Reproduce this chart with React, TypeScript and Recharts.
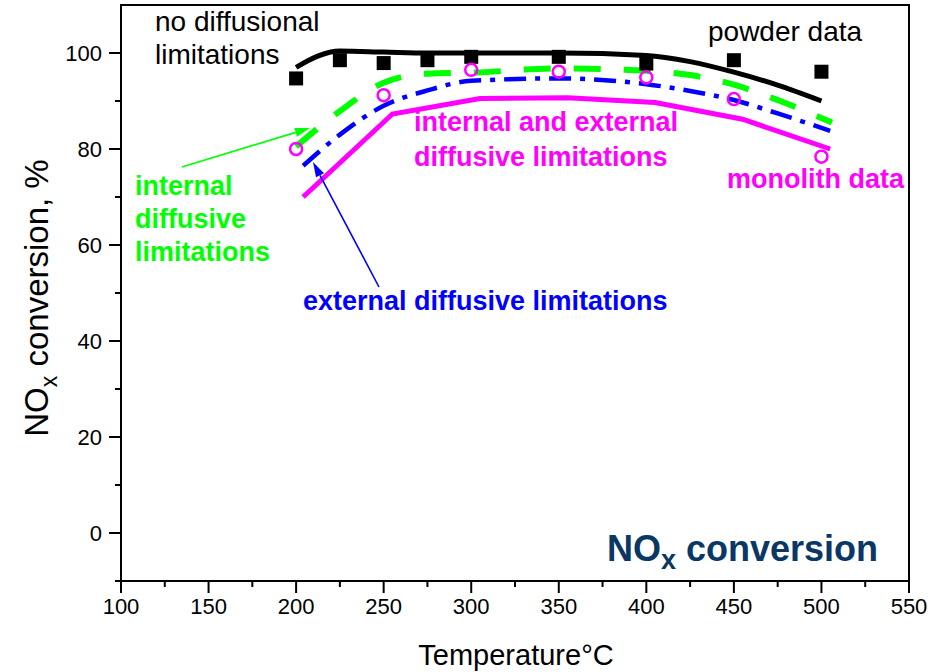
import React from 'react';
import { ComposedChart, Line, Scatter, XAxis, YAxis, ReferenceArea } from 'recharts';

// ---- data ----
const powderT = [200, 225, 250, 275, 300, 350, 400, 450, 500];
const powderNOx = [94.7, 98.5, 97.9, 98.5, 99.2, 99.2, 97.8, 98.5, 96.1];

const monolithT = [200, 250, 300, 350, 400, 450, 500];
const monolithNOx = [80, 91.2, 96.5, 96.1, 94.9, 90.4, 78.4];

const noDiffT = [200, 212, 225, 250, 275, 300, 350, 400, 425, 450, 475, 500];
const noDiffNOx = [97, 99.3, 100.4, 100.2, 100, 100, 100, 99.5, 98.2, 96, 93.3, 90];

const internalT = [200, 225, 250, 275, 300, 350, 400, 425, 450, 475, 506];
const internalNOx = [80.5, 87.9, 93.8, 95.7, 95.9, 96.8, 96.3, 95.4, 93.4, 90.2, 85.5];

const externalT = [204, 225, 250, 275, 300, 350, 400, 425, 450, 475, 505];
const externalNOx = [76.5, 83, 89, 92.2, 94.2, 94.7, 93.5, 92.1, 90.2, 87.4, 83.8];

const bothT = [204, 255, 305, 355, 405, 455, 505];
const bothNOx = [70, 87.3, 90.5, 90.7, 89.7, 86.2, 80];

const xTicks = [100, 125, 150, 175, 200, 225, 250, 275, 300, 325, 350, 375, 400, 425, 450, 475, 500, 525, 550];
const yTicks = [-10, 0, 10, 20, 30, 40, 50, 60, 70, 80, 90, 100];

const zip = (xs: number[], ys: number[]) => xs.map((x, i) => ({ x, y: ys[i] }));

const powderData = zip(powderT, powderNOx);
const monolithData = zip(monolithT, monolithNOx);
const noDiffData = zip(noDiffT, noDiffNOx);
const internalData = zip(internalT, internalNOx);
const externalData = zip(externalT, externalNOx);
const bothData = zip(bothT, bothNOx);

const FONT = '"Liberation Sans", Arial, Helvetica, sans-serif';
const GREEN = '#00ff00';
const BLUE = '#0000ff';
const MAGENTA = '#ff00ff';
const NAVY = '#0a3764';

const XTick = (p: any) => {
  const { x, y, payload } = p;
  const major = payload.value % 50 === 0;
  return (
    <g>
      <line x1={x} x2={x} y1={y} y2={y + (major ? 12 : 6)} stroke="#000" strokeWidth={2} />
      {major && (
        <text x={x} y={y + 33} textAnchor="middle" fontSize={22} fontFamily={FONT} fill="#000">
          {payload.value}
        </text>
      )}
    </g>
  );
};

const YTick = (p: any) => {
  const { x, y, payload } = p;
  const major = payload.value % 20 === 0;
  return (
    <g>
      <line x1={x - (major ? 12 : 6)} x2={x} y1={y} y2={y} stroke="#000" strokeWidth={2} />
      {major && (
        <text x={x - 19} y={y} dy="0.36em" textAnchor="end" fontSize={22} fontFamily={FONT} fill="#000">
          {payload.value}
        </text>
      )}
    </g>
  );
};

const Square = (p: any) => (
  <rect x={p.cx - 7} y={p.cy - 7} width={14} height={14} fill="#000" />
);
const Ring = (p: any) => (
  <circle cx={p.cx} cy={p.cy} r={6} fill="none" stroke={MAGENTA} strokeWidth={2.5} />
);

const Arrow = ({ x1, y1, x2, y2, color }: any) => {
  const ang = Math.atan2(y2 - y1, x2 - x1);
  const L = 15, Wd = 4.5;
  const bx = x2 - L * Math.cos(ang), by = y2 - L * Math.sin(ang);
  const px = -Math.sin(ang) * Wd, py = Math.cos(ang) * Wd;
  return (
    <g>
      <line x1={x1} y1={y1} x2={bx} y2={by} stroke={color} strokeWidth={1.6} />
      <polygon points={`${x2},${y2} ${bx + px},${by + py} ${bx - px},${by - py}`} fill={color} />
    </g>
  );
};

export default function App() {
  return (
    <div style={{ position: 'absolute', left: 0, top: 0, width: 938, height: 672, background: '#fff' }}>
      <ComposedChart
        width={938}
        height={672}
        margin={{ top: 5, right: 29, bottom: 31, left: 61 }}
      >
        <XAxis
          dataKey="x"
          type="number"
          domain={[100, 550]}
          ticks={xTicks}
          interval={0}
          tickSize={0}
          tickMargin={0}
          tickLine={false}
          tick={(p: any) => <XTick {...p} />}
          axisLine={{ stroke: '#000', strokeWidth: 2 }}
          height={60}
          allowDataOverflow
        />
        <YAxis
          dataKey="y"
          type="number"
          domain={[-10, 110]}
          ticks={yTicks}
          interval={0}
          tickSize={0}
          tickMargin={0}
          tickLine={false}
          tick={(p: any) => <YTick {...p} />}
          axisLine={{ stroke: '#000', strokeWidth: 2 }}
          width={60}
          allowDataOverflow
        />
        <ReferenceArea x1={100} x2={550} y1={-10} y2={110} fill="none" stroke="#000" strokeWidth={2} ifOverflow="visible" />
        <Line data={noDiffData} dataKey="y" type="monotone" stroke="#000" strokeWidth={5} dot={false} isAnimationActive={false} />
        <Line data={internalData} dataKey="y" type="monotone" stroke={GREEN} strokeWidth={6} strokeDasharray="27 23" dot={false} isAnimationActive={false} />
        <Line data={externalData} dataKey="y" type="monotone" stroke={BLUE} strokeWidth={4.5} strokeDasharray="22 9 5 9" dot={false} isAnimationActive={false} />
        <Line data={bothData} dataKey="y" type="linear" stroke={MAGENTA} strokeWidth={5} dot={false} isAnimationActive={false} />
        <Scatter data={powderData} dataKey="y" shape={(p: any) => <Square {...p} />} isAnimationActive={false} />
        <Scatter data={monolithData} dataKey="y" shape={(p: any) => <Ring {...p} />} isAnimationActive={false} />
      </ComposedChart>
      <svg
        width={938}
        height={672}
        style={{ position: 'absolute', left: 0, top: 0, pointerEvents: 'none' }}
        fontFamily={FONT}
      >
        <text x={155} y={31} fontSize={28} fill="#000">no diffusional</text>
        <text x={155} y={64} fontSize={28} fill="#000">limitations</text>
        <text x={708} y={41} fontSize={28} fill="#000">powder data</text>

        <text x={414} y={131} fontSize={27} fontWeight="bold" fill={MAGENTA}>internal and external</text>
        <text x={414} y={166} fontSize={27} fontWeight="bold" fill={MAGENTA}>diffusive limitations</text>
        <text x={727} y={188} fontSize={27} fontWeight="bold" fill={MAGENTA}>monolith data</text>

        <text x={135} y={195} fontSize={27} fontWeight="bold" fill={GREEN}>internal</text>
        <text x={135} y={228} fontSize={27} fontWeight="bold" fill={GREEN}>diffusive</text>
        <text x={135} y={261} fontSize={27} fontWeight="bold" fill={GREEN}>limitations</text>

        <text x={303} y={310} fontSize={27} fontWeight="bold" fill={BLUE}>external diffusive limitations</text>

        <Arrow x1={182} y1={167} x2={310} y2={128} color={GREEN} />
        <Arrow x1={379} y1={287} x2={313} y2={162} color={BLUE} />

        <text x={607} y={561} fontSize={36} fontWeight="bold" fill={NAVY}>
          NO<tspan fontSize={27} dy={8}>x</tspan>
          <tspan dy={-8}> conversion</tspan>
        </text>

        <text x={516} y={665} fontSize={29} textAnchor="middle" fill="#000">Temperature°C</text>

        <text transform="translate(48,298) rotate(-90)" fontSize={33} textAnchor="middle" fill="#000">
          NO<tspan fontSize={23} dy={9}>x</tspan>
          <tspan dy={-9}> conversion, %</tspan>
        </text>
      </svg>
    </div>
  );
}
